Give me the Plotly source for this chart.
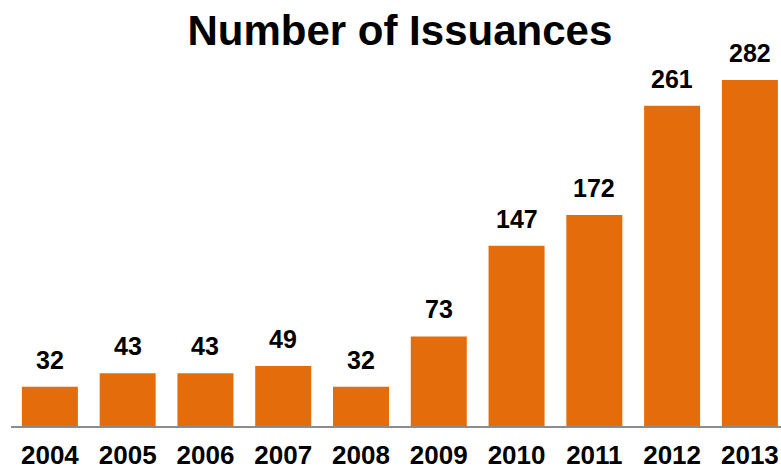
import plotly.graph_objects as go

years = ["2004", "2005", "2006", "2007", "2008", "2009", "2010", "2011", "2012", "2013"]
issuances = [32, 43, 43, 49, 32, 73, 147, 172, 261, 282]

BAR_COLOR = "#E46C0A"
FONT = "Liberation Sans, Arial, sans-serif"

fig = go.Figure(
    go.Bar(
        x=years,
        y=issuances,
        marker=dict(color=BAR_COLOR, line=dict(width=0)),
        hoverinfo="x+y",
    )
)

# value labels above each bar (category axis: position by index)
for i, value in enumerate(issuances):
    fig.add_annotation(
        x=i,
        y=value,
        xref="x",
        yref="y",
        text=f"<b>{value}</b>",
        showarrow=False,
        yanchor="bottom",
        xanchor="center",
        yshift=11,
        font=dict(family=FONT, size=25, color="#000000"),
    )

fig.update_layout(
    width=781,
    height=468,
    margin=dict(l=11, r=0, t=60, b=42),
    paper_bgcolor="white",
    plot_bgcolor="white",
    bargap=0.28,
    showlegend=False,
    title=dict(
        text="<b>Number of Issuances</b>",
        font=dict(family=FONT, size=42, color="#000000"),
        x=0.512,
        xanchor="center",
        xref="container",
        y=0.935,
        yanchor="middle",
        yref="container",
    ),
    xaxis=dict(
        type="category",
        range=[-0.5, 9.4],
        showline=True,
        linecolor="#8C8C8C",
        linewidth=2,
        ticks="",
        ticklabelstandoff=5,
        automargin=False,
        showgrid=False,
        tickfont=dict(family=FONT, size=26, color="#000000", weight="bold"),
    ),
    yaxis=dict(
        range=[0, 298.3],
        visible=False,
        showgrid=False,
        zeroline=False,
    ),
)

fig.write_html("out.html")
